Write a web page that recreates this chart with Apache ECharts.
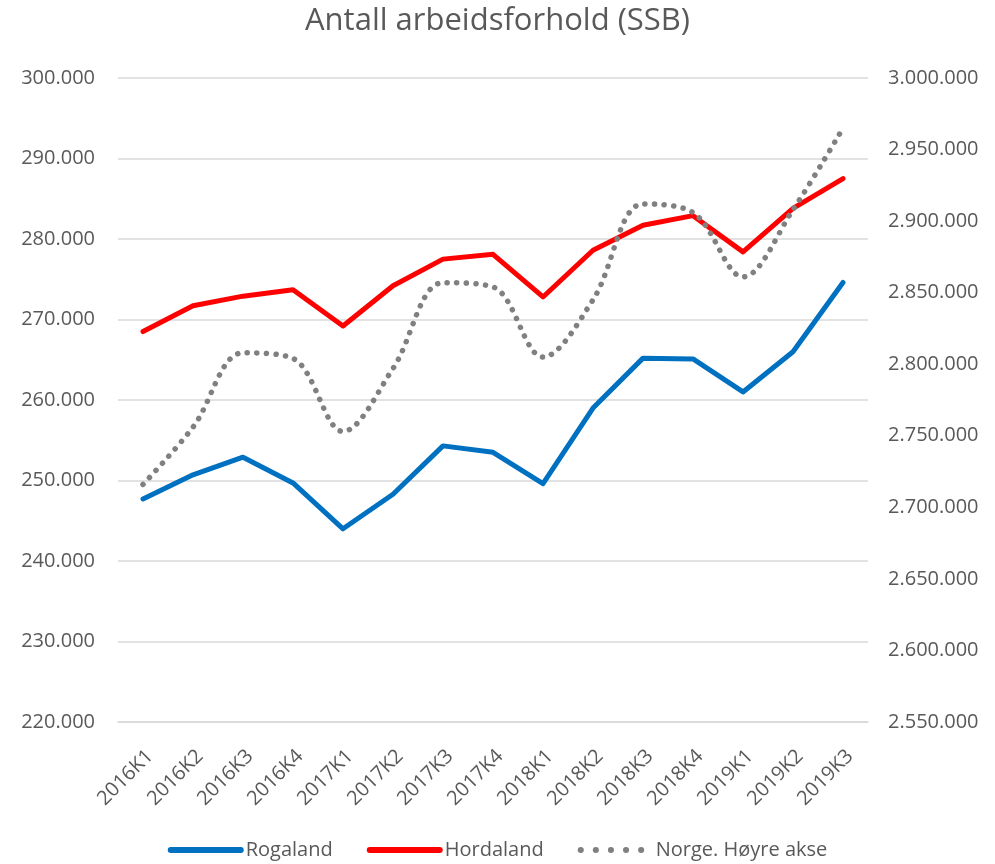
<!DOCTYPE html>
<html>
<head>
<meta charset="utf-8">
<script src="https://cdn.jsdelivr.net/npm/echarts@6/dist/echarts.min.js"></script>
<style>
  html, body { margin: 0; padding: 0; background: #fff; }
  #main { width: 995px; height: 864px; }
</style>
</head>
<body>
<div id="main"></div>
<script>
var kvartaler = ['2016K1', '2016K2', '2016K3', '2016K4', '2017K1', '2017K2', '2017K3', '2017K4',
  '2018K1', '2018K2', '2018K3', '2018K4', '2019K1', '2019K2', '2019K3'];
var rogaland = [247700, 250700, 252900, 249700, 244000, 248300, 254300, 253500,
  249600, 259000, 265200, 265100, 261000, 266000, 274600];
var hordaland = [268500, 271700, 272900, 273700, 269200, 274200, 277500, 278100,
  272800, 278600, 281700, 282900, 278400, 283800, 287500];
var norge = [2716000, 2756000, 2808000, 2804000, 2753000, 2797000, 2857000, 2854000,
  2805000, 2845000, 2912000, 2906000, 2861000, 2908000, 2965000];

var font = '"Open Sans", "Noto Sans", sans-serif';
var tekst = '#595959';

function tusen(v) {
  return String(v).replace(/\B(?=(\d{3})+(?!\d))/g, '.');
}

var myChart = echarts.init(document.getElementById('main'));
myChart.setOption({
  animation: false,
  textStyle: { fontFamily: font },
  title: {
    text: 'Antall arbeidsforhold (SSB)',
    left: 'center',
    top: 1,
    textStyle: { fontFamily: font, fontSize: 31, fontWeight: 'normal', color: tekst }
  },
  grid: { left: 118, right: 127, top: 78, bottom: 142 },
  legend: {
    top: 835,
    left: 'center',
    itemWidth: 70,
    itemHeight: 20,
    itemGap: 34,
    itemStyle: { opacity: 0 },
    lineStyle: { width: 6 },
    textStyle: { fontFamily: font, fontSize: 20, color: tekst },
    data: ['Rogaland', 'Hordaland', {
      name: 'Norge. Høyre akse',
      lineStyle: { width: 6, type: [0.1, 15], cap: 'round' }
    }]
  },
  xAxis: {
    type: 'category',
    data: kvartaler,
    axisLine: { lineStyle: { color: '#d9d9d9', width: 1.5 } },
    axisTick: { show: false },
    axisLabel: {
      rotate: 45, fontSize: 20, color: tekst, fontFamily: font,
      margin: 24, interval: 0, verticalAlign: 'top'
    }
  },
  yAxis: [{
    type: 'value',
    min: 220000,
    max: 300000,
    interval: 10000,
    axisLabel: { formatter: tusen, fontSize: 20, color: tekst, fontFamily: font, margin: 23 },
    splitLine: { lineStyle: { color: '#d9d9d9', width: 1.5 } },
    axisLine: { show: false },
    axisTick: { show: false }
  }, {
    type: 'value',
    min: 2550000,
    max: 3000000,
    interval: 50000,
    position: 'right',
    axisLabel: { formatter: tusen, fontSize: 20, color: tekst, fontFamily: font, margin: 20 },
    splitLine: { show: false },
    axisLine: { show: false },
    axisTick: { show: false }
  }],
  series: [{
    name: 'Rogaland',
    type: 'line',
    data: rogaland,
    symbol: 'none',
    lineStyle: { color: '#0070c0', width: 5, cap: 'round', join: 'round' },
    itemStyle: { color: '#0070c0' }
  }, {
    name: 'Hordaland',
    type: 'line',
    data: hordaland,
    symbol: 'none',
    lineStyle: { color: '#ff0000', width: 5, cap: 'round', join: 'round' },
    itemStyle: { color: '#ff0000' }
  }, {
    name: 'Norge. Høyre akse',
    type: 'line',
    yAxisIndex: 1,
    data: norge,
    symbol: 'none',
    smooth: 0.35,
    lineStyle: { color: '#808080', width: 5.5, type: [0.1, 9.5], cap: 'round' },
    itemStyle: { color: '#808080' }
  }]
});
</script>
</body>
</html>
